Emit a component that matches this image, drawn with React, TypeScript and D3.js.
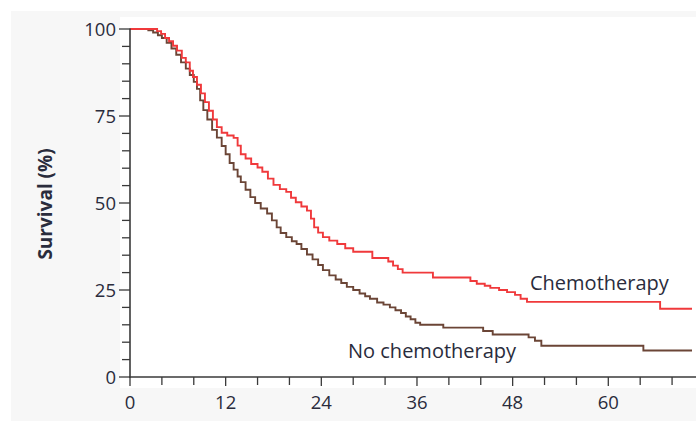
import React from "react";
import * as d3 from "d3";

const chemoMonths = [0, 3.0, 3.4, 3.9, 4.4, 4.9, 5.4, 5.9, 6.5, 7.0, 7.5, 7.9, 8.4, 8.9, 9.4, 9.9, 10.4, 10.9, 11.5, 12.2, 13.0, 13.5, 13.9, 14.5, 15.2, 16.0, 16.6, 17.3, 18.0, 18.8, 19.6, 20.2, 20.8, 21.5, 22.2, 22.7, 23.1, 23.6, 24.2, 25.0, 26.0, 27.0, 28.0, 30.4, 32.4, 33.0, 33.6, 34.2, 38.0, 42.7, 43.5, 44.5, 45.2, 46.3, 47.3, 48.3, 49.0, 49.8, 66.5, 70.5];
const chemoSurvival = [100, 100, 99.4, 98.6, 97.4, 96.5, 95.2, 93.8, 91.7, 90.4, 88.0, 86.2, 84.0, 81.5, 79.0, 76.5, 74.0, 71.8, 70.2, 69.4, 68.7, 66.5, 64.0, 62.8, 61.2, 60.2, 59.0, 57.0, 55.2, 54.0, 53.2, 51.5, 50.2, 49.0, 47.8, 45.5, 43.0, 41.5, 40.2, 39.2, 38.2, 37.0, 36.0, 34.2, 33.2, 32.0, 31.0, 30.0, 28.6, 27.6, 26.8, 26.2, 25.6, 25.0, 24.4, 23.6, 22.5, 21.6, 19.6, 19.6];

const noChemoMonths = [0, 1.6, 2.3, 2.9, 3.5, 4.0, 4.6, 5.2, 5.8, 6.4, 7.0, 7.5, 8.0, 8.4, 8.8, 9.2, 9.7, 10.3, 10.9, 11.5, 12.0, 12.5, 13.0, 13.5, 13.9, 14.5, 15.1, 15.7, 16.4, 17.2, 17.8, 18.4, 18.9, 19.6, 20.3, 20.9, 21.5, 22.2, 22.9, 23.6, 24.2, 25.0, 25.8, 26.5, 27.2, 28.0, 28.8, 29.5, 30.1, 31.0, 31.8, 32.6, 33.3, 34.0, 34.6, 35.2, 35.8, 36.4, 39.3, 44.3, 45.5, 50.0, 50.8, 51.6, 64.4, 70.5];
const noChemoSurvival = [100, 100, 99.6, 99.0, 98.2, 97.4, 96.0, 94.4, 92.6, 90.4, 88.6, 86.8, 84.8, 82.8, 79.5, 76.7, 74.0, 71.0, 68.8, 66.4, 64.0, 61.5, 59.6, 57.6, 56.0, 53.8, 51.7, 50.0, 48.4, 47.0, 45.0, 43.0, 41.4, 40.2, 39.0, 38.2, 36.8, 35.2, 33.8, 32.2, 30.7, 29.2, 28.0, 27.0, 25.9, 25.0, 24.0, 23.2, 22.5, 21.4, 20.8, 20.0, 19.2, 18.4, 17.4, 16.6, 15.6, 15.0, 14.2, 13.2, 12.2, 11.4, 10.4, 9.0, 7.6, 7.6];

const xMajorTicks = [0, 12, 24, 36, 48, 60];
const xMinorTicks = [4, 8, 16, 20, 28, 32, 40, 44, 52, 56, 64, 68];
const yMajorTicks = [0, 25, 50, 75, 100];
const yMinorTicks = [5, 10, 15, 20, 30, 35, 40, 45, 55, 60, 65, 70, 80, 85, 90, 95];

const seriesNames = ["Chemotherapy", "No chemotherapy"];
const yTitle = "Survival (%)";

const W = 696, H = 421;
const FONT = "'Open Sans', 'Noto Sans', sans-serif";
const TEXT = "#2a2c3c";
const AXIS = "#3a3a3a";

export default function App() {
  const x = d3.scaleLinear().domain([0, 60]).range([130, 608.3]);
  const y = d3.scaleLinear().domain([0, 100]).range([377, 29]);
  const line = d3
    .line<[number, number]>()
    .x((d) => x(d[0]))
    .y((d) => y(d[1]))
    .curve(d3.curveStepAfter);
  const chemo = chemoMonths.map((m, i) => [m, chemoSurvival[i]] as [number, number]);
  const noChemo = noChemoMonths.map((m, i) => [m, noChemoSurvival[i]] as [number, number]);

  return (
    <svg width={W} height={H} style={{ position: "absolute", left: 0, top: 0 }}>
      <rect x={0} y={0} width={W} height={H} fill="#ffffff" />
      <rect x={11} y={11} width={W - 11} height={H - 11} fill="#f7f7f7" />
      <rect x={120} y={17} width={W - 120} height={371} fill="#ffffff" />

      <path d={line(noChemo) || ""} fill="none" stroke="#6b4536" strokeWidth={1.9} />
      <path d={line(chemo) || ""} fill="none" stroke="#f0393b" strokeWidth={1.9} />

      {/* y axis */}
      <line x1={x(0)} x2={x(0)} y1={y(100) - 0.5} y2={y(0) + 0.8} stroke={AXIS} strokeWidth={1.6} />
      {yMajorTicks.map((t) => (
        <g key={"ym" + t}>
          <line x1={119} x2={x(0)} y1={y(t)} y2={y(t)} stroke={AXIS} strokeWidth={1.3} />
          <text x={116} y={y(t)} dy="0.36em" textAnchor="end" fontFamily={FONT} fontSize={18.5} fill={TEXT}>
            {t}
          </text>
        </g>
      ))}
      {yMinorTicks.map((t) => (
        <line key={"yn" + t} x1={122} x2={x(0)} y1={y(t)} y2={y(t)} stroke={AXIS} strokeWidth={1.3} />
      ))}

      {/* x axis */}
      <line x1={x(0) - 0.8} x2={W} y1={y(0)} y2={y(0)} stroke={AXIS} strokeWidth={1.6} />
      {xMajorTicks.map((t) => (
        <g key={"xm" + t}>
          <line x1={x(t)} x2={x(t)} y1={y(0)} y2={386} stroke={AXIS} strokeWidth={1.3} />
          <text x={x(t)} y={402} dy="0.36em" textAnchor="middle" fontFamily={FONT} fontSize={18.5} fill={TEXT}>
            {t}
          </text>
        </g>
      ))}
      {xMinorTicks.map((t) => (
        <line key={"xn" + t} x1={x(t)} x2={x(t)} y1={y(0)} y2={385} stroke={AXIS} strokeWidth={1.3} />
      ))}

      <text
        transform={`translate(52,204) rotate(-90)`}
        textAnchor="middle"
        fontFamily={FONT}
        fontSize={19}
        fontWeight="bold"
        fill={TEXT}
      >
        {yTitle}
      </text>

      <text x={530} y={290} fontFamily={FONT} fontSize={20} fill={TEXT}>
        {seriesNames[0]}
      </text>
      <text x={348} y={358} fontFamily={FONT} fontSize={20} fill={TEXT}>
        {seriesNames[1]}
      </text>
    </svg>
  );
}
